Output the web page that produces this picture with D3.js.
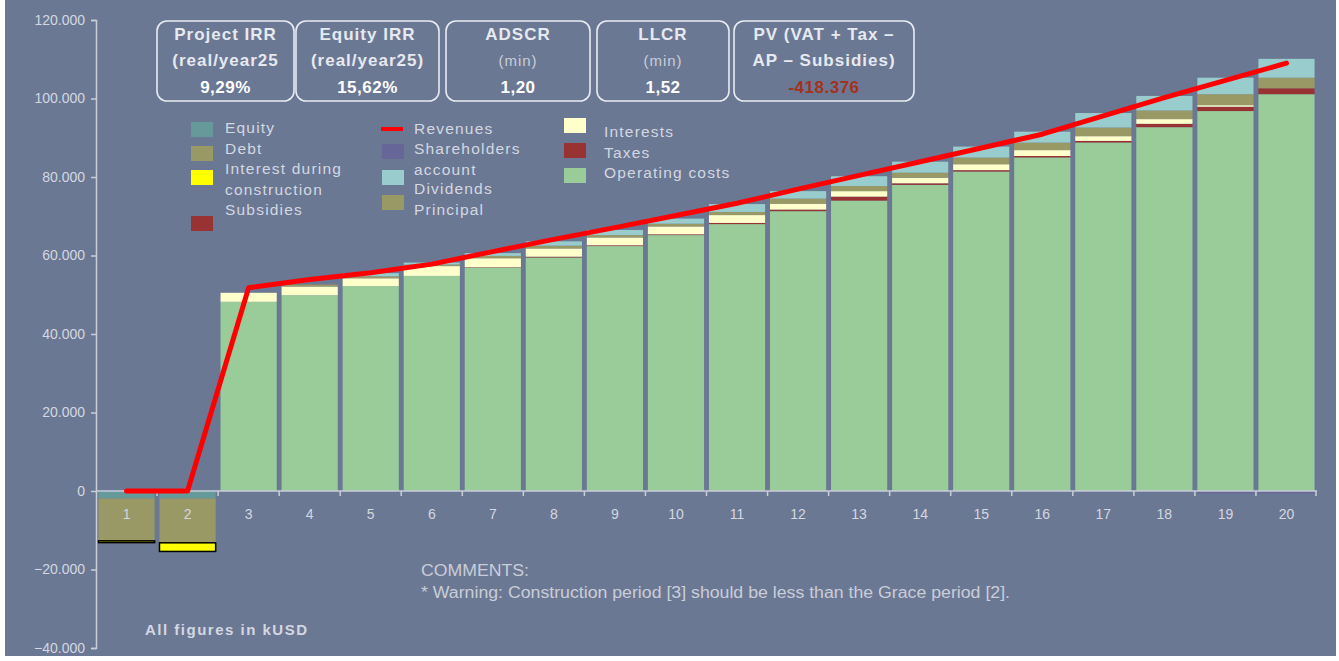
<!DOCTYPE html>
<html>
<head>
<meta charset="utf-8">
<script src="https://cdn.jsdelivr.net/npm/d3@7"></script>
<style>
    html, body { margin: 0; padding: 0; background: #ffffff; }
    svg { display: block; }
    text { font-family: "Liberation Sans", Arial, sans-serif; }
</style>
</head>
<body>
<div id="chart"></div>
<script>
// categories (years of operation)
const periods = ['1','2','3','4','5','6','7','8','9','10','11','12','13','14','15','16','17','18','19','20'];

// series values, kUSD
const equity        = [-1900, -1900, 0, 0, 0, 0, 0, 0, 0, 0, 0, 0, 0, 0, 0, 0, 0, 0, 0, 0];
const debt          = [-10800, -11300, 0, 0, 0, 0, 0, 0, 0, 0, 0, 0, 0, 0, 0, 0, 0, 0, 0, 0];
const idc           = [-450, -2200, 0, 0, 0, 0, 0, 0, 0, 0, 0, 0, 0, 0, 0, 0, 0, 0, 0, 0];
const subsidies     = [0, 0, 0, 0, 0, 0, 0, 0, 0, 0, 0, 0, 0, 0, 0, 0, 0, 0, 0, 0];
const shareholders  = [0, 0, 0, 0, 0, 0, 0, 0, 0, 0, 0, 0, -150, -150, -150, -150, -300, -300, -600, -600];
const operatingCosts= [0, 0, 48200, 49900, 52200, 54800, 56900, 59500, 62400, 65200, 68000, 71300, 74000, 78000, 81400, 85000, 88800, 92700, 96800, 101100];
const taxes         = [0, 0, 0, 0, 0, 0, 100, 200, 200, 200, 300, 400, 1000, 400, 350, 350, 400, 850, 1100, 1500];
const interests     = [0, 0, 2300, 2200, 2000, 2500, 2300, 2100, 2000, 2000, 2000, 1500, 1400, 1400, 1500, 1500, 1200, 1200, 400, 0];
const principal     = [0, 0, 0, 500, 500, 400, 600, 700, 600, 700, 800, 1300, 1300, 1300, 1700, 1900, 2200, 2200, 2800, 2700];
const dividends     = [0, 0, 0, 0, 800, 500, 700, 1100, 1300, 1300, 2000, 1900, 2500, 2800, 2800, 2800, 3700, 3700, 4200, 4800];
const revenues      = [0, 0, 51800, 53900, 55600, 57800, 61000, 64100, 67100, 70200, 73300, 76900, 80400, 83900, 87400, 90900, 95600, 100200, 104600, 109000];

// tick labels
const yTicks = [-40000, -20000, 0, 20000, 40000, 60000, 80000, 100000, 120000];

// KPI boxes
const kpiTitle = ['Project IRR', 'Equity IRR', 'ADSCR', 'LLCR', 'PV (VAT + Tax –'];
const kpiSub   = ['(real/year25', '(real/year25)', '(min)', '(min)', 'AP – Subsidies)'];
const kpiValue = ['9,29%', '15,62%', '1,20', '1,52', '-418.376'];

// text notes
const comments = ['COMMENTS:', '* Warning: Construction period [3] should be less than the Grace period [2].'];
const unitNote = 'All figures in kUSD';

// series definitions (stack order, colours, legend)
const seriesKeys = ['equity','debt','idc','shareholders','subsidies','operatingCosts','taxes','interests','principal','dividends'];
const seriesColor = {
    equity: '#669999', debt: '#999966', idc: '#ffff00', shareholders: '#666699', subsidies: '#993333',
    operatingCosts: '#99cc99', taxes: '#993333', interests: '#ffffcc', principal: '#999966', dividends: '#99cccc'
};
const seriesValues = { equity, debt, idc, shareholders, subsidies, operatingCosts, taxes, interests, principal, dividends };

// table for d3.stack
const table = periods.map((p, i) => {
    const row = { period: p };
    seriesKeys.forEach(k => row[k] = seriesValues[k][i]);
    return row;
});

// layout
const W = 1339, H = 661;
const bg = '#6b7894';
const axisColor = '#c9ced8';
const textColor = '#d3d7e0';

const svg = d3.select('#chart')
    .append('svg')
    .attr('width', W)
    .attr('height', H);

svg.append('rect')
    .attr('x', 5).attr('y', 0)
    .attr('width', 1331).attr('height', 656)
    .attr('fill', bg);

// scales
const scaleX = d3.scaleBand()
    .domain(periods)
    .range([96, 1317])
    .paddingInner(0.08)
    .paddingOuter(0.04);

const scaleY = d3.scaleLinear()
    .domain([-40000, 120000])
    .range([648, 20]);

const locale = d3.formatLocale({ decimal: ',', thousands: '.', grouping: [3], currency: ['', ''] });
const fmt = locale.format(',.0f');

// stacked bars
const stack = d3.stack()
    .keys(seriesKeys)
    .offset(d3.stackOffsetDiverging);
const stacked = stack(table);

const layers = svg.append('g')
    .attr('class', 'bars')
    .selectAll('g')
    .data(stacked)
    .join('g')
    .attr('fill', d => seriesColor[d.key]);

layers.selectAll('rect')
    .data(d => d.map(v => Object.assign(v, { key: d.key })))
    .join('rect')
    .filter(d => d[1] - d[0] !== 0)
    .attr('x', d => scaleX(d.data.period))
    .attr('width', scaleX.bandwidth())
    .attr('y', d => scaleY(Math.max(d[0], d[1])))
    .attr('height', d => Math.abs(scaleY(d[0]) - scaleY(d[1])))
    .attr('stroke', d => d.key === 'idc' ? '#000000' : null)
    .attr('stroke-width', d => d.key === 'idc' ? 1.5 : null);

// y axis
const axisY = d3.axisLeft(scaleY)
    .tickValues(yTicks)
    .tickSizeInner(5)
    .tickSizeOuter(5)
    .tickPadding(6)
    .tickFormat(d => fmt(d));

const gy = svg.append('g')
    .attr('transform', 'translate(96,0)')
    .call(axisY);
gy.selectAll('path, line').attr('stroke', axisColor).attr('stroke-width', 1.5);
gy.selectAll('text')
    .attr('fill', textColor)
    .style('font-size', '14px')
    .style('font-family', '"Liberation Sans", Arial, sans-serif');

// x axis along zero line
const y0 = scaleY(0);
const gx = svg.append('g').attr('class', 'axis-x');
gx.append('line')
    .attr('x1', 96).attr('x2', 1317)
    .attr('y1', y0).attr('y2', y0)
    .attr('stroke', axisColor).attr('stroke-width', 1.5);

const boundaries = periods.map(p => scaleX(p) - scaleX.step() * scaleX.paddingInner() / 2).slice(1)
    .concat([scaleX.range()[1] - 1]);
gx.selectAll('.tick-b')
    .data(boundaries)
    .join('line')
    .attr('class', 'tick-b')
    .attr('x1', d => d).attr('x2', d => d)
    .attr('y1', y0).attr('y2', y0 + 5)
    .attr('stroke', axisColor).attr('stroke-width', 1.5);

gx.selectAll('.lab')
    .data(periods)
    .join('text')
    .attr('class', 'lab')
    .attr('x', d => scaleX(d) + scaleX.bandwidth() / 2)
    .attr('y', y0 + 28)
    .attr('text-anchor', 'middle')
    .attr('fill', textColor)
    .style('font-size', '14px')
    .text(d => d);

// revenue line
const line = d3.line()
    .x((d, i) => scaleX(periods[i]) + scaleX.bandwidth() / 2)
    .y(d => scaleY(d));

svg.append('path')
    .datum(revenues)
    .attr('d', line)
    .attr('fill', 'none')
    .attr('stroke', '#ff0000')
    .attr('stroke-width', 5)
    .attr('stroke-linejoin', 'round')
    .attr('stroke-linecap', 'round');

// KPI boxes
const boxX = [157, 296, 446, 597, 734];
const boxW = [137, 143, 144, 132, 180];
const kpi = svg.append('g').attr('class', 'kpi');
const boxes = kpi.selectAll('g')
    .data(kpiTitle)
    .join('g')
    .attr('transform', (d, i) => `translate(${boxX[i]},21)`);

boxes.append('rect')
    .attr('width', (d, i) => boxW[i])
    .attr('height', 80)
    .attr('rx', 10)
    .attr('fill', 'none')
    .attr('stroke', '#e8ebf2')
    .attr('stroke-width', 1.6);

boxes.append('text')
    .attr('x', (d, i) => boxW[i] / 2)
    .attr('y', 19)
    .attr('text-anchor', 'middle')
    .attr('fill', '#e6e9ef')
    .style('font-size', '17px')
    .style('font-weight', 'bold')
    .style('letter-spacing', '1px')
    .text(d => d);

boxes.append('text')
    .attr('x', (d, i) => boxW[i] / 2)
    .attr('y', 45)
    .attr('text-anchor', 'middle')
    .attr('fill', (d, i) => kpiSub[i] === '(min)' ? '#c9cdd8' : '#e6e9ef')
    .style('font-size', (d, i) => kpiSub[i] === '(min)' ? '15px' : '17px')
    .style('font-weight', (d, i) => kpiSub[i] === '(min)' ? 'normal' : 'bold')
    .style('letter-spacing', '1px')
    .text((d, i) => kpiSub[i]);

boxes.append('text')
    .attr('x', (d, i) => boxW[i] / 2)
    .attr('y', 72)
    .attr('text-anchor', 'middle')
    .attr('fill', (d, i) => i === 4 ? '#a3321c' : '#ffffff')
    .style('font-size', '17px')
    .style('font-weight', 'bold')
    .style('letter-spacing', '0.5px')
    .text((d, i) => kpiValue[i]);

// legend
const legendItems = [
    { key: 'equity',         label: ['Equity'],                          sx: 191, sy: 122, tx: 225, ty: 133 },
    { key: 'debt',           label: ['Debt'],                            sx: 191, sy: 146, tx: 225, ty: 153.5 },
    { key: 'idc',            label: ['Interest during', 'construction'], sx: 191, sy: 170, tx: 225, ty: 174 },
    { key: 'subsidies',      label: ['Subsidies'],                       sx: 191, sy: 216, tx: 225, ty: 214.5 },
    { key: 'revenues',       label: ['Revenues'],                        sx: 381, sy: 129, tx: 414, ty: 133.5 },
    { key: 'shareholders',   label: ['Shareholders', 'account'],         sx: 382, sy: 144, tx: 414, ty: 154 },
    { key: 'dividends',      label: ['Dividends'],                       sx: 382, sy: 170, tx: 414, ty: 194 },
    { key: 'principal',      label: ['Principal'],                       sx: 382, sy: 195, tx: 414, ty: 214.5 },
    { key: 'interests',      label: ['Interests'],                       sx: 564, sy: 118, tx: 604, ty: 137 },
    { key: 'taxes',          label: ['Taxes'],                           sx: 564, sy: 143, tx: 604, ty: 157.5 },
    { key: 'operatingCosts', label: ['Operating costs'],                 sx: 564, sy: 168, tx: 604, ty: 178 }
];

const legend = svg.append('g').attr('class', 'legend');
legendItems.forEach(it => {
    if (it.key === 'revenues') {
        legend.append('line')
            .attr('x1', it.sx).attr('x2', it.sx + 22)
            .attr('y1', it.sy).attr('y2', it.sy)
            .attr('stroke', '#ff0000').attr('stroke-width', 4);
    } else {
        legend.append('rect')
            .attr('x', it.sx).attr('y', it.sy)
            .attr('width', 22).attr('height', 15)
            .attr('fill', seriesColor[it.key]);
    }
    legend.append('text')
        .attr('x', it.tx).attr('y', it.ty)
        .attr('fill', textColor)
        .style('font-size', '15.5px')
        .style('letter-spacing', '1.2px')
        .selectAll('tspan')
        .data(it.label)
        .join('tspan')
        .attr('x', it.tx)
        .attr('dy', (d, i) => i === 0 ? 0 : 20.5)
        .text(d => d);
});

// comments
svg.append('text')
    .attr('x', 421).attr('y', 576)
    .attr('fill', '#c9cdd8')
    .style('font-size', '16px')
    .attr('textLength', 108)
    .attr('lengthAdjust', 'spacingAndGlyphs')
    .text(comments[0]);
svg.append('text')
    .attr('x', 421).attr('y', 598)
    .attr('fill', '#c9cdd8')
    .style('font-size', '16px')
    .attr('textLength', 589)
    .attr('lengthAdjust', 'spacingAndGlyphs')
    .text(comments[1]);

// unit note
svg.append('text')
    .attr('x', 145).attr('y', 635)
    .attr('fill', textColor)
    .style('font-size', '15px')
    .style('font-weight', 'bold')
    .attr('textLength', 162)
    .attr('lengthAdjust', 'spacing')
    .text(unitNote);
</script>
</body>
</html>
